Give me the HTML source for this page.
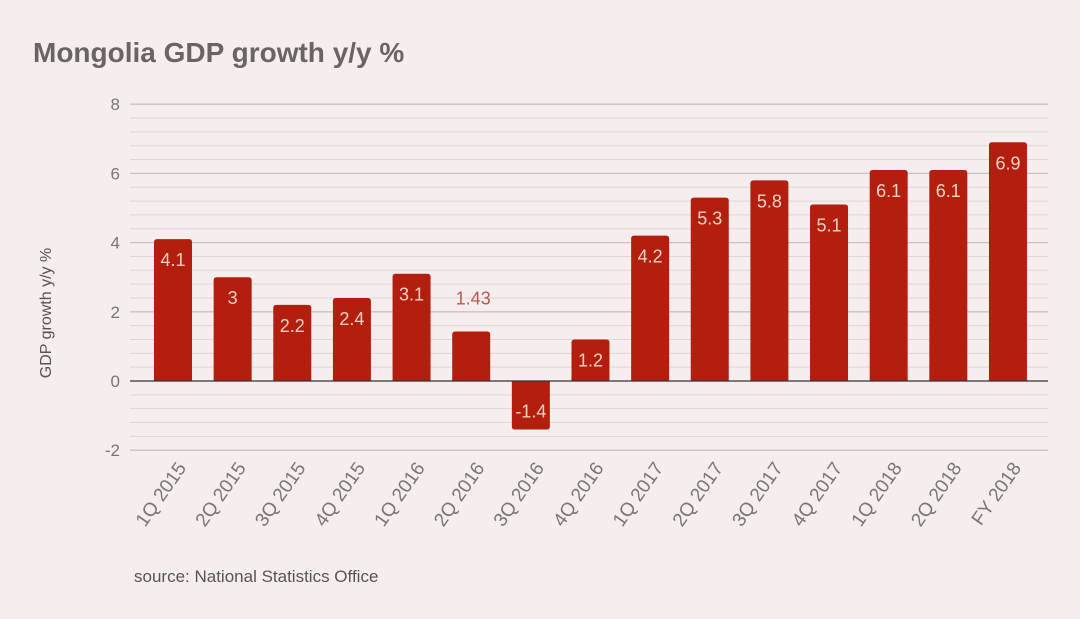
<!DOCTYPE html>
<html><head><meta charset="utf-8"><style>
body{margin:0;background:#f6eeee;font-family:"Liberation Sans",sans-serif}
svg{display:block}
</style></head><body>
<svg width="1080" height="619" id="c">
<rect width="1080" height="619" fill="#f6eeee"/>
<text x="33" y="62" font-size="28" font-weight="bold" fill="#6a6464">Mongolia GDP growth y/y %</text>
<text transform="translate(51,313) rotate(-90)" text-anchor="middle" font-size="16" fill="#555">GDP growth y/y %</text>
<text x="134" y="582" font-size="17" fill="#555">source: National Statistics Office</text>
<g id="grid"></g><g id="bars"></g><g id="xl"></g>
</svg>
<script>
const categories=["1Q 2015","2Q 2015","3Q 2015","4Q 2015","1Q 2016","2Q 2016","3Q 2016","4Q 2016","1Q 2017","2Q 2017","3Q 2017","4Q 2017","1Q 2018","2Q 2018","FY 2018"];
const values=[4.1,3,2.2,2.4,3.1,1.43,-1.4,1.2,4.2,5.3,5.8,5.1,6.1,6.1,6.9];
const labels=["4.1","3","2.2","2.4","3.1","1.43","-1.4","1.2","4.2","5.3","5.8","5.1","6.1","6.1","6.9"];
const yTicks=[-2,0,2,4,6,8];
const NS="http://www.w3.org/2000/svg";
function y(v){return 381-v*34.6;}
function x(i){return 173+i*59.64;}
function mk(t,a,p){const e=document.createElementNS(NS,t);for(const k in a)e.setAttribute(k,a[k]);p.appendChild(e);return e;}
const g=document.getElementById('grid'),b=document.getElementById('bars'),xl=document.getElementById('xl');
for(let v=-2;v<=8.001;v+=0.4){const vv=Math.round(v*10)/10;if(Math.abs(vv%2)<1e-6)continue;
const l=mk('line',{x1:130,x2:1048,y1:y(vv),y2:y(vv),stroke:'#ddd6d6','stroke-width':1},g);

}
yTicks.forEach(t=>{if(t!==0){const l=mk('line',{x1:130,x2:1048,y1:y(t),y2:y(t),stroke:'#c9c2c2','stroke-width':1.3},g);

}
const tx=mk('text',{x:120,y:y(t)+6,'text-anchor':'end','font-size':17,fill:'#777'},g);tx.textContent=t;

});
values.forEach((v,i)=>{const top=Math.min(y(v),y(0)),h=Math.abs(y(v)-y(0));
const r=mk('path',{d:`M${x(i)-19},${y(0)} V${v>=0?top+3:top+h-3} q0,${v>=0?-3:3} 3,${v>=0?-3:3} H${x(i)+16} q3,0 3,${v>=0?3:-3} V${y(0)} Z`,fill:'#b31f0f'},b);


const t=mk('text',{'text-anchor':'middle','font-size':18},b);
if(h<60&&v>0&&labels[i]==="1.43"){t.setAttribute('x',x(i)+2);t.setAttribute('y',top-27);t.setAttribute('fill','#b85a50');}
else if(v<0){t.setAttribute('x',x(i));t.setAttribute('y',y(v)-12);t.setAttribute('fill','#f7d2c4');}
else{t.setAttribute('x',x(i));t.setAttribute('y',top+27);t.setAttribute('fill','#f7d2c4');}
t.textContent=labels[i];


const c=mk('text',{'text-anchor':'end','font-size':19,fill:'#7a7676',transform:`translate(${x(i)+14},468) rotate(-55)`},xl);
c.textContent=categories[i];

});
const z=mk('line',{x1:130,x2:1048,y1:y(0),y2:y(0),stroke:'#333','stroke-width':1.3},b);


</script>
</body></html>
